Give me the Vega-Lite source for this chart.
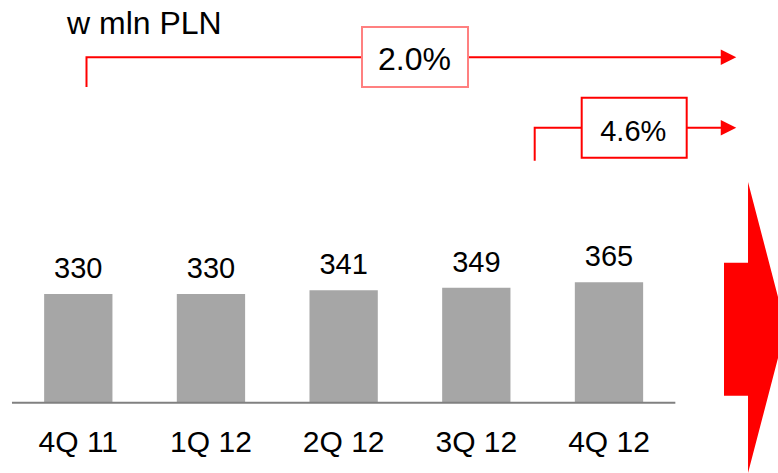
{
  "$schema": "https://vega.github.io/schema/vega-lite/v6.json",
  "width": 778,
  "height": 473,
  "autosize": {"type": "fit", "contains": "padding"},
  "padding": 0,
  "background": "white",
  "config": {"view": {"stroke": null}, "text": {"font": "Liberation Sans", "color": "#000000"}},
  "datasets": {
    "bars": [
      {"quarter": "4Q 11", "value": 330},
      {"quarter": "1Q 12", "value": 330},
      {"quarter": "2Q 12", "value": 341},
      {"quarter": "3Q 12", "value": 349},
      {"quarter": "4Q 12", "value": 365}
    ],
    "baseline": [{"x": -0.5, "x2": 4.5, "y": 0}],
    "lines": [
      {"id": "a1", "ord": 1, "x": 0.0618, "y": 957.5},
      {"id": "a1", "ord": 2, "x": 0.0618, "y": 1047.6},
      {"id": "a1", "ord": 3, "x": 4.9, "y": 1047.6},
      {"id": "a2", "ord": 1, "x": 3.44, "y": 734.0},
      {"id": "a2", "ord": 2, "x": 3.44, "y": 834.1},
      {"id": "a2", "ord": 3, "x": 4.9, "y": 834.1}
    ],
    "heads": [
      {"id": "a1", "x": 4.9008, "y": 1047.6},
      {"id": "a2", "x": 4.9008, "y": 834.1}
    ],
    "boxes": [
      {"id": "b1", "x": 2.1383, "x2": 2.9373, "y": 957.5, "y2": 1139.5},
      {"id": "b2", "x": 3.7942, "x2": 4.5856, "y": 743.1, "y2": 925.1}
    ],
    "boxLabels": [
      {"id": "b1", "x": 2.534, "y": 1009.1, "label": "2.0%"},
      {"id": "b2", "x": 4.183, "y": 794.7, "label": "4.6%"}
    ],
    "unit": [{"x": -0.0852, "y": 1117.4, "label": "w mln PLN"}],
    "bigArrow": [
      {"x": 4.8668, "y": 424.6, "y2": 21.2},
      {"x": 5.0478, "y": 424.6, "y2": 21.2},
      {"x": 5.0479, "y": 669.4, "y2": -213.2},
      {"x": 5.2738, "y": 320.9, "y2": 135.3}
    ]
  },
  "resolve": {"scale": {"x": "independent"}},
  "layer": [
    {
      "data": {"name": "bars"},
      "encoding": {
        "x": {
          "field": "quarter",
          "type": "nominal",
          "sort": null,
          "scale": {"type": "band", "paddingInner": 0.4852, "paddingOuter": 0.6746, "align": 0.2466},
          "axis": null
        },
        "y": {
          "field": "value",
          "type": "quantitative",
          "scale": {"domain": [-213.2, 1221.4], "nice": false, "zero": false},
          "axis": null
        }
      },
      "layer": [
        {
          "mark": {"type": "bar", "color": "#a6a6a6"},
          "encoding": {"y2": {"datum": 0}}
        },
        {
          "mark": {"type": "text", "baseline": "alphabetic", "dy": -16, "fontSize": 29},
          "encoding": {"text": {"field": "value", "type": "quantitative"}}
        },
        {
          "mark": {"type": "text", "baseline": "alphabetic", "fontSize": 30},
          "encoding": {
            "y": {"datum": -148.6, "type": "quantitative"},
            "text": {"field": "quarter", "type": "nominal"}
          }
        }
      ]
    },
    {
      "encoding": {
        "x": {
          "field": "x",
          "type": "quantitative",
          "scale": {"domain": [-0.5902, 5.2738], "nice": false, "zero": false},
          "axis": null
        },
        "y": {
          "field": "y",
          "type": "quantitative",
          "scale": {"domain": [-213.2, 1221.4], "nice": false, "zero": false},
          "axis": null
        }
      },
      "layer": [
        {
          "data": {"name": "bigArrow"},
          "mark": {"type": "area", "color": "#ff0000", "orient": "vertical", "opacity": 1},
          "encoding": {
            "y2": {"field": "y2"}
          }
        },
        {
          "data": {"name": "baseline"},
          "mark": {"type": "rule", "color": "#808080", "strokeWidth": 2},
          "encoding": {"x2": {"field": "x2"}}
        },
        {
          "data": {"name": "lines"},
          "mark": {"type": "line", "color": "#ff0000", "strokeWidth": 2},
          "encoding": {
            "detail": {"field": "id", "type": "nominal"},
            "order": {"field": "ord", "type": "quantitative"}
          }
        },
        {
          "data": {"name": "heads"},
          "mark": {"type": "point", "shape": "M-1,-1L1,0L-1,1Z", "size": 240, "filled": true, "color": "#ff0000", "opacity": 1}
        },
        {
          "data": {"name": "boxes"},
          "mark": {"type": "rect", "fill": "#ffffff", "strokeWidth": 2},
          "encoding": {
            "x2": {"field": "x2"},
            "y2": {"field": "y2"},
            "stroke": {
              "field": "id",
              "type": "nominal",
              "scale": {"domain": ["b1", "b2"], "range": ["#ff8080", "#ff0000"]},
              "legend": null
            }
          }
        },
        {
          "data": {"name": "boxLabels"},
          "mark": {"type": "text", "baseline": "alphabetic", "align": "center"},
          "encoding": {
            "text": {"field": "label", "type": "nominal"},
            "size": {
              "field": "id",
              "type": "nominal",
              "scale": {"domain": ["b1", "b2"], "range": [32, 29]},
              "legend": null
            }
          }
        },
        {
          "data": {"name": "unit"},
          "mark": {"type": "text", "baseline": "alphabetic", "align": "left", "fontSize": 32},
          "encoding": {"text": {"field": "label", "type": "nominal"}}
        }
      ]
    }
  ]
}
